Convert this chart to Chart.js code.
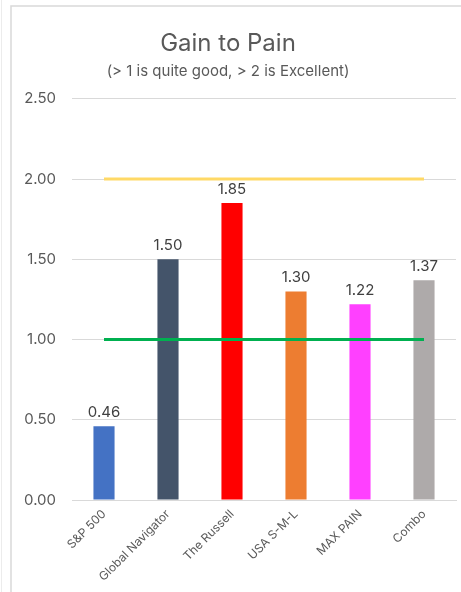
<!DOCTYPE html>
<html lang="en">
<head>
  <meta charset="UTF-8">
  <title>Gain to Pain</title>
  <script src="https://cdn.jsdelivr.net/npm/chart.js"></script>
  <style>
    html, body { margin: 0; padding: 0; background: #fff; }
    #wrap { width: 461px; height: 592px; }
  </style>
</head>
<body>
  <div id="wrap"><canvas id="gainChart"></canvas></div>

  <script>
    const categories = ["S&P 500", "Global Navigator", "The Russell", "USA S-M-L", "MAX PAIN", "Combo"];
    const gainToPain = [0.46, 1.50, 1.85, 1.30, 1.22, 1.37];
    const excellentLine = [2, 2, 2, 2, 2, 2];
    const goodLine = [1, 1, 1, 1, 1, 1];
    const barColors = ["#4472C4", "#44546A", "#FF0000", "#ED7D31", "#FF40FF", "#AEAAAA"];

    const fontFamily = "Inter, 'Open Sans', sans-serif";

    // frame around the chart, like the spreadsheet chart box
    const frame = {
      id: "frame",
      beforeDraw(chart) {
        const ctx = chart.ctx;
        ctx.save();
        ctx.strokeStyle = "#d9d9d9";
        ctx.lineWidth = 1.5;
        ctx.beginPath();
        ctx.moveTo(11, 592);
        ctx.lineTo(11, 6);
        ctx.lineTo(461, 6);
        ctx.stroke();
        ctx.strokeStyle = "#ececec";
        ctx.lineWidth = 1;
        ctx.beginPath();
        ctx.moveTo(1.5, 0);
        ctx.lineTo(1.5, 592);
        ctx.stroke();
        ctx.restore();
      }
    };

    const barLabels = {
      id: "barLabels",
      afterDatasetsDraw(chart) {
        const ctx = chart.ctx;
        const meta = chart.getDatasetMeta(2);
        ctx.save();
        ctx.font = "15px " + fontFamily;
        ctx.fillStyle = "#404040";
        ctx.textAlign = "center";
        ctx.textBaseline = "bottom";
        meta.data.forEach((bar, i) => {
          ctx.fillText(gainToPain[i].toFixed(2), bar.x, bar.y - 6);
        });
        ctx.restore();
      }
    };

    new Chart(document.getElementById("gainChart"), {
      data: {
        labels: categories,
        datasets: [
          {
            type: "line",
            data: excellentLine,
            borderColor: "#FFD966",
            borderWidth: 3,
            pointRadius: 0,
            order: 0
          },
          {
            type: "line",
            data: goodLine,
            borderColor: "#00B050",
            borderWidth: 3,
            pointRadius: 0,
            order: 0
          },
          {
            type: "bar",
            data: gainToPain,
            backgroundColor: barColors,
            categoryPercentage: 1,
            barPercentage: 0.33,
            order: 1
          }
        ]
      },
      options: {
        responsive: true,
        maintainAspectRatio: false,
        animation: false,
        layout: { padding: { left: 0, right: 5, top: 0, bottom: 0 } },
        plugins: {
          legend: { display: false },
          tooltip: { enabled: false },
          title: {
            display: true,
            text: "Gain to Pain",
            color: "#595959",
            font: { family: fontFamily, size: 24, weight: "normal" },
            padding: { top: 29, bottom: 2 }
          },
          subtitle: {
            display: true,
            text: "(> 1 is quite good, > 2 is Excellent)",
            color: "#595959",
            font: { family: fontFamily, size: 15, weight: "normal" },
            padding: { top: 3, bottom: 18 }
          }
        },
        scales: {
          x: {
            grid: { display: false, drawTicks: false },
            border: { color: "#d9d9d9" },
            ticks: {
              color: "#595959",
              font: { family: fontFamily, size: 12 },
              minRotation: 45,
              maxRotation: 45,
              padding: 7
            },
            afterFit(scale) { scale.height = 92; }
          },
          y: {
            min: 0,
            max: 2.5,
            grid: { color: "#d9d9d9", drawTicks: false },
            border: { display: false },
            ticks: {
              stepSize: 0.5,
              color: "#595959",
              font: { family: fontFamily, size: 15 },
              padding: 16,
              callback: v => v.toFixed(2)
            },
            afterFit(scale) { scale.width = 72; }
          }
        }
      },
      plugins: [frame, barLabels]
    });
  </script>
</body>
</html>
